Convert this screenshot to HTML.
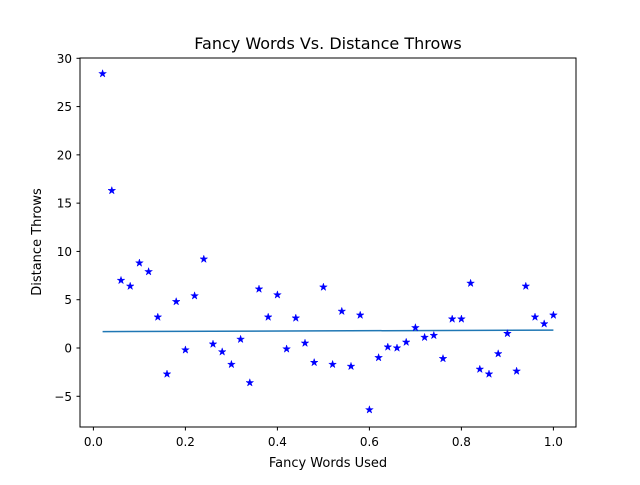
<!DOCTYPE html>
<html><head><meta charset="utf-8"><style>
html,body{margin:0;padding:0;background:#fff;}
svg text{font-family:"DejaVu Sans","Liberation Sans",sans-serif;fill:#000;}
</style></head><body>
<svg id="chart" width="640" height="480" xmlns="http://www.w3.org/2000/svg">
<rect width="640" height="480" fill="#fff"/>
<g id="ticks"></g>
<g id="marks"></g>
<rect x="80" y="58" width="496" height="369" fill="none" stroke="#000" stroke-width="1"/>
<text x="328" y="49" font-size="16" text-anchor="middle">Fancy Words Vs. Distance Throws</text>
<text x="328" y="467" font-size="13" text-anchor="middle">Fancy Words Used</text>
<text x="0" y="0" font-size="13" text-anchor="middle" transform="translate(41,242) rotate(-90)">Distance Throws</text>
</svg>
<script>
const xValues=[0.02,0.04,0.06,0.08,0.10,0.12,0.14,0.16,0.18,0.20,0.22,0.24,0.26,0.28,0.30,0.32,0.34,0.36,0.38,0.40,0.42,0.44,0.46,0.48,0.50,0.52,0.54,0.56,0.58,0.60,0.62,0.64,0.66,0.68,0.70,0.72,0.74,0.76,0.78,0.80,0.82,0.84,0.86,0.88,0.90,0.92,0.94,0.96,0.98,1.00];
const yValues=[28.4,16.3,7.0,6.4,8.8,7.9,3.2,-2.7,4.8,-0.2,5.4,9.2,0.4,-0.4,-1.7,0.9,-3.6,6.1,3.2,5.5,-0.1,3.1,0.5,-1.5,6.3,-1.7,3.8,-1.9,3.4,-6.4,-1.0,0.1,0.0,0.6,2.1,1.1,1.3,-1.1,3.0,3.0,6.7,-2.2,-2.7,-0.6,1.5,-2.4,6.4,3.2,2.5,3.4];
const fitX=[0.02,1.0];
const fitY=[1.7,1.85];
const xTicks=[0.0,0.2,0.4,0.6,0.8,1.0];
const xTickLabels=["0.0","0.2","0.4","0.6","0.8","1.0"];
const yTicks=[-5,0,5,10,15,20,25,30];
const yTickLabels=["−5","0","5","10","15","20","25","30"];
const NS="http://www.w3.org/2000/svg";
function sx(v){return 93.4+v*460;}
function sy(v){return 348-v*9.657;}
function mk(t,a){const e=document.createElementNS(NS,t);for(const k in a)e.setAttribute(k,a[k]);return e;}
const tg=document.getElementById('ticks'),mg=document.getElementById('marks');
xTicks.forEach((v,i)=>{
  const l=mk('line',{x1:sx(v),x2:sx(v),y1:427,y2:430.5,stroke:'#000'});
  
  
  tg.appendChild(l);
  const t=mk('text',{x:sx(v),y:446,'font-size':12,'text-anchor':'middle'});
  t.textContent=xTickLabels[i];
  
  
  tg.appendChild(t);
});
yTicks.forEach((v,i)=>{
  const l=mk('line',{x1:76.5,x2:80,y1:sy(v),y2:sy(v),stroke:'#000'});
  
  
  tg.appendChild(l);
  const t=mk('text',{x:72,y:sy(v)+4.5,'font-size':12,'text-anchor':'end'});
  t.textContent=yTickLabels[i];
  
  
  tg.appendChild(t);
});
const fit=mk('polyline',{points:fitX.map((x,i)=>sx(x)+','+sy(fitY[i])).join(' '),fill:'none',stroke:'#1f77b4','stroke-width':1.5});


mg.appendChild(fit);
function star(cx,cy,R){const r=R*0.382;let p=[];for(let i=0;i<10;i++){const a=-Math.PI/2+i*Math.PI/5;const rr=i%2?r:R;p.push((cx+rr*Math.cos(a)).toFixed(2)+','+(cy+rr*Math.sin(a)).toFixed(2));}return p.join(' ');}
xValues.forEach((x,i)=>{
  const s=mk('polygon',{points:star(sx(x),sy(yValues[i]),4),fill:'#0000ff',stroke:'#0000ff','stroke-width':0.5});
  
  
  mg.appendChild(s);
});
</script>
</body></html>
